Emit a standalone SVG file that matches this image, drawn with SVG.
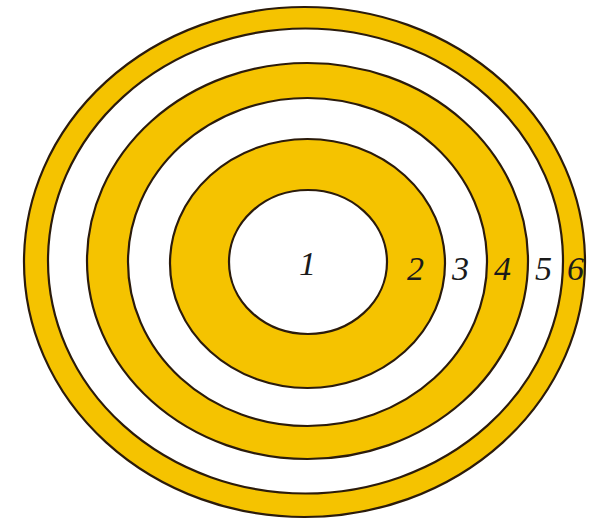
<svg xmlns="http://www.w3.org/2000/svg" width="589" height="520" viewBox="0 0 589 520">
<style>
.y{fill:#F5C300;stroke:#2B1B0B;stroke-width:2.2}
.w{fill:#FFFFFF;stroke:#2B1B0B;stroke-width:2.2}
.t{font-family:"Liberation Serif","Times New Roman",serif;font-style:italic;font-size:34px;fill:#1A1A1A}
</style>
<rect width="589" height="520" fill="#FFFFFF"/>
<g id="ring6"><ellipse class="y" cx="304.5" cy="262" rx="280.5" ry="255"/></g>
<g id="ring5"><ellipse class="w" cx="305.5" cy="261" rx="257.5" ry="232.5"/></g>
<g id="ring4"><ellipse class="y" cx="307.5" cy="261" rx="220.5" ry="198"/></g>
<g id="ring3"><ellipse class="w" cx="307.5" cy="262" rx="179.5" ry="164"/></g>
<g id="ring2"><ellipse class="y" cx="307.5" cy="263.5" rx="137.5" ry="124.5"/></g>
<g id="ring1"><ellipse class="w" cx="308" cy="262" rx="79" ry="72"/></g>
<g id="labels">
<text class="t" x="299" y="275">1</text>
<text class="t" x="407" y="280">2</text>
<text class="t" x="452" y="280">3</text>
<text class="t" x="494" y="280">4</text>
<text class="t" x="535" y="280">5</text>
<text class="t" x="567" y="280">6</text>
</g>
</svg>
